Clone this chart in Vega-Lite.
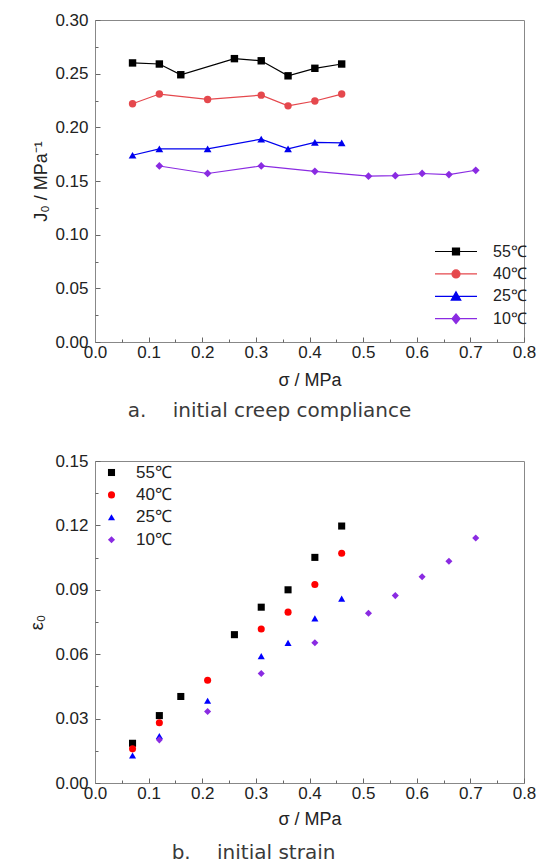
{
  "$schema": "https://vega.github.io/schema/vega-lite/v6.json",
  "autosize": {"type": "pad"},
  "padding": {"left": 28, "top": 10, "right": 10, "bottom": 5},
  "background": "white",
  "spacing": 29,
  "resolve": {"scale": {"color": "independent", "shape": "independent", "fill": "independent", "stroke": "independent"}, "legend": {"color": "independent", "shape": "independent", "fill": "independent", "stroke": "independent"}},
  "datasets": {
    "J0": [
      {"sigma": 0.07, "T": "55℃", "J": 0.260},
      {"sigma": 0.12, "T": "55℃", "J": 0.259},
      {"sigma": 0.16, "T": "55℃", "J": 0.249},
      {"sigma": 0.26, "T": "55℃", "J": 0.264},
      {"sigma": 0.31, "T": "55℃", "J": 0.262},
      {"sigma": 0.36, "T": "55℃", "J": 0.248},
      {"sigma": 0.41, "T": "55℃", "J": 0.255},
      {"sigma": 0.46, "T": "55℃", "J": 0.259},
      {"sigma": 0.07, "T": "40℃", "J": 0.222},
      {"sigma": 0.12, "T": "40℃", "J": 0.231},
      {"sigma": 0.21, "T": "40℃", "J": 0.226},
      {"sigma": 0.31, "T": "40℃", "J": 0.230},
      {"sigma": 0.36, "T": "40℃", "J": 0.220},
      {"sigma": 0.41, "T": "40℃", "J": 0.2245},
      {"sigma": 0.46, "T": "40℃", "J": 0.231},
      {"sigma": 0.07, "T": "25℃", "J": 0.174},
      {"sigma": 0.12, "T": "25℃", "J": 0.180},
      {"sigma": 0.21, "T": "25℃", "J": 0.180},
      {"sigma": 0.31, "T": "25℃", "J": 0.189},
      {"sigma": 0.36, "T": "25℃", "J": 0.180},
      {"sigma": 0.41, "T": "25℃", "J": 0.186},
      {"sigma": 0.46, "T": "25℃", "J": 0.1855},
      {"sigma": 0.12, "T": "10℃", "J": 0.164},
      {"sigma": 0.21, "T": "10℃", "J": 0.157},
      {"sigma": 0.31, "T": "10℃", "J": 0.164},
      {"sigma": 0.41, "T": "10℃", "J": 0.159},
      {"sigma": 0.51, "T": "10℃", "J": 0.1545},
      {"sigma": 0.56, "T": "10℃", "J": 0.155},
      {"sigma": 0.61, "T": "10℃", "J": 0.157},
      {"sigma": 0.66, "T": "10℃", "J": 0.156},
      {"sigma": 0.71, "T": "10℃", "J": 0.160}
    ],
    "eps": [
      {"sigma": 0.07, "T": "55℃", "e": 0.0185},
      {"sigma": 0.12, "T": "55℃", "e": 0.0314},
      {"sigma": 0.16, "T": "55℃", "e": 0.0403},
      {"sigma": 0.26, "T": "55℃", "e": 0.0691},
      {"sigma": 0.31, "T": "55℃", "e": 0.0819},
      {"sigma": 0.36, "T": "55℃", "e": 0.0900},
      {"sigma": 0.41, "T": "55℃", "e": 0.1051},
      {"sigma": 0.46, "T": "55℃", "e": 0.1197},
      {"sigma": 0.07, "T": "40℃", "e": 0.0159},
      {"sigma": 0.12, "T": "40℃", "e": 0.0281},
      {"sigma": 0.21, "T": "40℃", "e": 0.0479},
      {"sigma": 0.31, "T": "40℃", "e": 0.0717},
      {"sigma": 0.36, "T": "40℃", "e": 0.0796},
      {"sigma": 0.41, "T": "40℃", "e": 0.0925},
      {"sigma": 0.46, "T": "40℃", "e": 0.1070},
      {"sigma": 0.07, "T": "25℃", "e": 0.0128},
      {"sigma": 0.12, "T": "25℃", "e": 0.0219},
      {"sigma": 0.21, "T": "25℃", "e": 0.0383},
      {"sigma": 0.31, "T": "25℃", "e": 0.0591},
      {"sigma": 0.36, "T": "25℃", "e": 0.0653},
      {"sigma": 0.41, "T": "25℃", "e": 0.0767},
      {"sigma": 0.46, "T": "25℃", "e": 0.0859},
      {"sigma": 0.12, "T": "10℃", "e": 0.0201},
      {"sigma": 0.21, "T": "10℃", "e": 0.0333},
      {"sigma": 0.31, "T": "10℃", "e": 0.0510},
      {"sigma": 0.41, "T": "10℃", "e": 0.0653},
      {"sigma": 0.51, "T": "10℃", "e": 0.0791},
      {"sigma": 0.56, "T": "10℃", "e": 0.0873},
      {"sigma": 0.61, "T": "10℃", "e": 0.0961},
      {"sigma": 0.66, "T": "10℃", "e": 0.1033},
      {"sigma": 0.71, "T": "10℃", "e": 0.1141}
    ]
  },
  "vconcat": [
    {
      "width": 429,
      "height": 322,
      "data": {"name": "J0"},
      "title": {"text": "a.\u2002\u2002 initial creep compliance", "orient": "bottom", "anchor": "middle", "dx": -40, "offset": 12, "font": "DejaVu Sans", "fontSize": 20, "fontWeight": "normal", "color": "#3a3a3a"},
      "layer": [
        {
          "mark": {"type": "line", "strokeWidth": 1.2},
          "encoding": {
            "x": {"field": "sigma", "type": "quantitative", "scale": {"domain": [0, 0.8], "nice": false},
              "axis": {"orient": "bottom", "values": [0, 0.1, 0.2, 0.3, 0.4, 0.5, 0.6, 0.7, 0.8], "format": ".1f", "tickSize": -5, "labelPadding": 7, "title": "σ / MPa", "titlePadding": 11}},
            "y": {"field": "J", "type": "quantitative", "scale": {"domain": [0, 0.3], "nice": false, "zero": false},
              "axis": {"orient": "left", "values": [0, 0.05, 0.1, 0.15, 0.2, 0.25, 0.3], "format": ".2f", "tickSize": -5, "labelPadding": 12, "title": "J₀ / MPa⁻¹", "titlePadding": 4}},
            "stroke": {"field": "T", "type": "nominal", "scale": {"domain": ["55℃", "40℃", "25℃", "10℃"], "range": ["#000000", "#e5484d", "#0000ee", "#8a2be2"]},
              "legend": {"orient": "none", "legendX": 353, "legendY": 223.5, "title": null, "padding": 0, "labelFont": "Liberation Sans", "labelFontSize": 16, "labelColor": "#222", "labelOffset": 29, "symbolSize": 100, "rowPadding": 6.4, "symbolOpacity": 1, "symbolStrokeWidth": 1.2}}
          }
        },
        {
          "transform": [{"filter": {"field": "T", "equal": "55℃"}}],
          "mark": {"type": "point", "filled": true, "opacity": 1, "size": 55, "shape": "square"},
          "encoding": {
            "x": {"field": "sigma", "type": "quantitative", "axis": null},
            "y": {"field": "J", "type": "quantitative", "axis": null},
            "fill": {"field": "T", "type": "nominal", "scale": {"domain": ["55℃", "40℃", "25℃", "10℃"], "range": ["#000000", "#e5484d", "#0000ee", "#8a2be2"]},
              "legend": {"orient": "none", "legendX": 353, "legendY": 223.5, "title": null, "padding": 0, "labelFont": "Liberation Sans", "labelFontSize": 16, "labelColor": "#222", "labelOffset": 29, "symbolSize": 100, "rowPadding": 6.4, "symbolOpacity": 1, "symbolStrokeWidth": 1.2}}
          }
        },
        {
          "transform": [{"filter": {"field": "T", "equal": "40℃"}}],
          "mark": {"type": "point", "filled": true, "opacity": 1, "size": 55, "shape": "circle"},
          "encoding": {
            "x": {"field": "sigma", "type": "quantitative", "axis": null},
            "y": {"field": "J", "type": "quantitative", "axis": null},
            "fill": {"field": "T", "type": "nominal",
              "legend": {"orient": "none", "legendX": 353, "legendY": 223.5, "title": null, "padding": 0, "labelFont": "Liberation Sans", "labelFontSize": 16, "labelColor": "#222", "labelOffset": 29, "symbolSize": 100, "rowPadding": 6.4, "symbolOpacity": 1, "symbolStrokeWidth": 1.2}}
          }
        },
        {
          "transform": [{"filter": {"field": "T", "equal": "25℃"}}],
          "mark": {"type": "point", "filled": true, "opacity": 1, "size": 60, "shape": "triangle-up"},
          "encoding": {
            "x": {"field": "sigma", "type": "quantitative", "axis": null},
            "y": {"field": "J", "type": "quantitative", "axis": null},
            "fill": {"field": "T", "type": "nominal",
              "legend": {"orient": "none", "legendX": 353, "legendY": 223.5, "title": null, "padding": 0, "labelFont": "Liberation Sans", "labelFontSize": 16, "labelColor": "#222", "labelOffset": 29, "symbolSize": 100, "rowPadding": 6.4, "symbolOpacity": 1, "symbolStrokeWidth": 1.2}}
          }
        },
        {
          "transform": [{"filter": {"field": "T", "equal": "10℃"}}],
          "mark": {"type": "point", "filled": true, "opacity": 1, "size": 60, "shape": "diamond"},
          "encoding": {
            "x": {"field": "sigma", "type": "quantitative", "axis": null},
            "y": {"field": "J", "type": "quantitative", "axis": null},
            "fill": {"field": "T", "type": "nominal",
              "legend": {"orient": "none", "legendX": 353, "legendY": 223.5, "title": null, "padding": 0, "labelFont": "Liberation Sans", "labelFontSize": 16, "labelColor": "#222", "labelOffset": 29, "symbolSize": 100, "rowPadding": 6.4, "symbolOpacity": 1, "symbolStrokeWidth": 1.2}}
          }
        },
        {
          "mark": {"type": "point", "filled": true, "opacity": 0, "strokeWidth": 1.2},
          "encoding": {
            "x": {"field": "sigma", "type": "quantitative",
              "axis": {"orient": "bottom", "values": [0.05, 0.15, 0.25, 0.35, 0.45, 0.55, 0.65, 0.75], "labels": false, "domain": false, "tickSize": -3, "title": null}},
            "y": {"field": "J", "type": "quantitative",
              "axis": {"orient": "left", "values": [0.025, 0.075, 0.125, 0.175, 0.225, 0.275], "labels": false, "domain": false, "tickSize": -3, "title": null}},
            "fill": {"field": "T", "type": "nominal",
              "legend": {"orient": "none", "legendX": 353, "legendY": 223.5, "title": null, "padding": 0, "labelFont": "Liberation Sans", "labelFontSize": 16, "labelColor": "#222", "labelOffset": 29, "symbolSize": 100, "rowPadding": 6.4, "symbolOpacity": 1, "symbolStrokeWidth": 1.2}},
            "stroke": {"field": "T", "type": "nominal",
              "legend": {"orient": "none", "legendX": 353, "legendY": 223.5, "title": null, "padding": 0, "labelFont": "Liberation Sans", "labelFontSize": 16, "labelColor": "#222", "labelOffset": 29, "symbolSize": 100, "rowPadding": 6.4, "symbolOpacity": 1, "symbolStrokeWidth": 1.2}},
            "shape": {"field": "T", "type": "nominal",
              "scale": {"domain": ["55℃", "40℃", "25℃", "10℃"], "range": ["M-4.2,0H4.2M-0.7,-0.7H0.7V0.7H-0.7Z", "M-4.2,0H4.2M0.8,0A0.8,0.8 0 1,1 -0.8,0A0.8,0.8 0 1,1 0.8,0Z", "M-4.2,0H4.2M0,-0.9L0.95,0.75H-0.95Z", "M-4.2,0H4.2M0,-0.95L0.8,0L0,0.95L-0.8,0Z"]},
              "legend": {"orient": "none", "legendX": 353, "legendY": 223.5, "title": null, "padding": 0, "labelFont": "Liberation Sans", "labelFontSize": 16, "labelColor": "#222", "labelOffset": 29, "symbolSize": 100, "rowPadding": 6.4, "symbolOpacity": 1, "symbolStrokeWidth": 1.2}}
          }
        }
      ],
      "resolve": {"axis": {"x": "independent", "y": "independent"}}
    },
    {
      "width": 429,
      "height": 322,
      "data": {"name": "eps"},
      "title": {"text": "b.\u2002\u2002 initial strain", "orient": "bottom", "anchor": "middle", "dx": -56, "offset": 15, "font": "DejaVu Sans", "fontSize": 20, "fontWeight": "normal", "color": "#3a3a3a"},
      "layer": [
        {
          "mark": {"type": "point", "filled": true, "opacity": 1, "size": 50},
          "encoding": {
            "x": {"field": "sigma", "type": "quantitative", "scale": {"domain": [0, 0.8], "nice": false},
              "axis": {"orient": "bottom", "values": [0, 0.1, 0.2, 0.3, 0.4, 0.5, 0.6, 0.7, 0.8], "format": ".1f", "tickSize": -5, "labelPadding": 7, "title": "σ / MPa", "titlePadding": 9}},
            "y": {"field": "e", "type": "quantitative", "scale": {"domain": [0, 0.15], "nice": false, "zero": false},
              "axis": {"orient": "left", "values": [0, 0.03, 0.06, 0.09, 0.12, 0.15], "format": ".2f", "tickSize": -5, "labelPadding": 12, "title": "ε₀", "titlePadding": 8}},
            "color": {"field": "T", "type": "nominal", "scale": {"domain": ["55℃", "40℃", "25℃", "10℃"], "range": ["#000000", "#ff0000", "#0000ff", "#8a2be2"]},
              "legend": {"orient": "none", "legendX": 8, "legendY": 3, "title": null, "padding": 0, "labelFont": "Liberation Sans", "labelFontSize": 17, "labelColor": "#222", "labelOffset": 16, "symbolSize": 50, "rowPadding": 4.4, "symbolOpacity": 1,
                "encode": {"symbols": {"update": {
                  "shape": {"signal": "datum.value === '55℃' ? 'square' : datum.value === '40℃' ? 'circle' : datum.value === '25℃' ? 'triangle-up' : 'diamond'"},
                  "opacity": {"value": 1}
                }}}}},
            "shape": {"field": "T", "type": "nominal", "scale": {"domain": ["55℃", "40℃", "25℃", "10℃"], "range": ["square", "circle", "triangle-up", "diamond"]}, "legend": null}
          }
        },
        {
          "mark": {"type": "point", "opacity": 0},
          "encoding": {
            "x": {"field": "sigma", "type": "quantitative",
              "axis": {"orient": "bottom", "values": [0.05, 0.15, 0.25, 0.35, 0.45, 0.55, 0.65, 0.75], "labels": false, "domain": false, "tickSize": -3, "title": null}},
            "y": {"field": "e", "type": "quantitative",
              "axis": {"orient": "left", "values": [0.015, 0.045, 0.075, 0.105, 0.135], "labels": false, "domain": false, "tickSize": -3, "title": null}}
          }
        }
      ],
      "resolve": {"axis": {"x": "independent", "y": "independent"}}
    }
  ],
  "config": {
    "view": {"stroke": "#888888", "strokeWidth": 1},
    "axis": {"domainColor": "#888888", "tickColor": "#666666", "labelFont": "Liberation Sans", "labelFontSize": 17, "labelColor": "#222222", "titleFont": "Liberation Sans", "titleFontSize": 18, "titleFontWeight": "normal", "titleColor": "#222222", "grid": false, "labelOverlap": false, "labelFlush": false, "labelBound": false}
  }
}
